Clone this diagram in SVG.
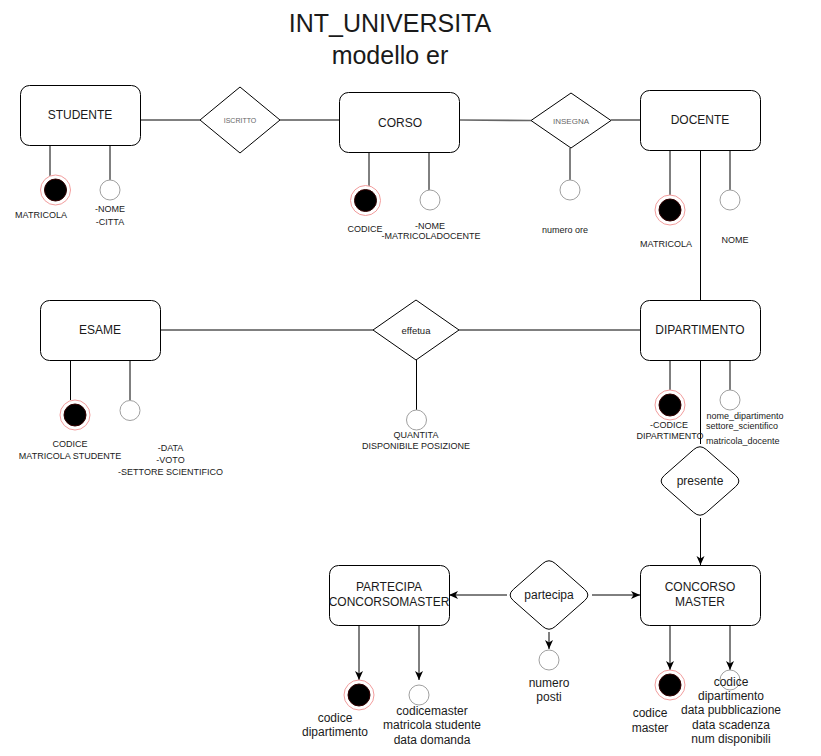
<svg xmlns="http://www.w3.org/2000/svg" width="821" height="756" viewBox="0 0 821 756">
<defs>
<marker id="arr" markerUnits="userSpaceOnUse" markerWidth="10" markerHeight="10" refX="9" refY="4" orient="auto">
<path d="M0,0 L9,4 L0,8 L2.5,4 Z" fill="#000"/>
</marker>
</defs>
<style>
text{font-family:"Liberation Sans",Arial,sans-serif;fill:#1a1a1a;text-anchor:middle}
.ent{fill:#fff;stroke:#000;stroke-width:1}
.rel{fill:#fff;stroke:#000;stroke-width:1}
.t12{font-size:12px}
.t9{font-size:9px}
.ln{stroke:#000;stroke-width:1;fill:none}
.ar{stroke:#000;stroke-width:1;fill:none;marker-end:url(#arr)}
.kout{fill:#fff;stroke:#f29c9c;stroke-width:1}
.kin{fill:#000;stroke:#300;stroke-width:1}
.att{fill:#fff;stroke:#a0a0a0;stroke-width:1}
</style>
<rect width="821" height="756" fill="#fff"/>
<g id="title">
<text x="390" y="32" style="font-size:25px">INT_UNIVERSITA</text>
<text x="390" y="63.5" style="font-size:25px">modello er</text>
</g>
<g id="connectors">
<line class="ln" x1="140" y1="120" x2="200" y2="120"/>
<line class="ln" x1="280" y1="120" x2="340" y2="120"/>
<line x1="460" y1="120" x2="531" y2="120.5" stroke="#666" stroke-width="1.6"/>
<line class="ln" x1="611" y1="120" x2="640" y2="120"/>
<line class="ln" x1="570" y1="148" x2="570" y2="180"/>
<line class="ln" x1="50" y1="145" x2="50" y2="179"/>
<line class="ln" x1="110" y1="145" x2="110" y2="180"/>
<line class="ln" x1="369" y1="153" x2="369" y2="189"/>
<line class="ln" x1="429" y1="153" x2="429" y2="190"/>
<line class="ln" x1="670" y1="150" x2="670" y2="195"/>
<line class="ln" x1="700.5" y1="150" x2="700.5" y2="300"/>
<line class="ln" x1="730" y1="150" x2="730" y2="190"/>
<line class="ln" x1="160" y1="330" x2="373" y2="330"/>
<line class="ln" x1="459" y1="330" x2="640" y2="330"/>
<line class="ln" x1="416.5" y1="360" x2="416.5" y2="410"/>
<line class="ln" x1="70.5" y1="360" x2="70.5" y2="400"/>
<line class="ln" x1="130" y1="360" x2="130" y2="400"/>
<line class="ln" x1="670" y1="360" x2="670" y2="390"/>
<line class="ln" x1="730" y1="360" x2="730" y2="390"/>
<line class="ln" x1="700.5" y1="360" x2="700.5" y2="444"/>
<line class="ar" x1="700.5" y1="518" x2="700.5" y2="565"/>
<line class="ar" x1="507" y1="595" x2="449" y2="595"/>
<line class="ar" x1="592" y1="595" x2="640" y2="595"/>
<line class="ar" x1="549" y1="632" x2="549" y2="649"/>
<line class="ar" x1="359" y1="625" x2="359" y2="680"/>
<line class="ar" x1="419" y1="625" x2="419" y2="680"/>
<line class="ar" x1="670" y1="625" x2="670" y2="670"/>
<line class="ar" x1="730" y1="625" x2="730" y2="670"/>
</g>
<g id="studente">
<rect class="ent" x="20.5" y="85.5" width="120" height="60" rx="9"/>
<text class="t12" x="80" y="119">STUDENTE</text>
</g>
<g id="iscritto">
<polygon class="rel" points="240,87 280,120 240,153 200,120"/>
<text x="240" y="123" style="font-size:7px;fill:#666">ISCRITTO</text>
</g>
<g id="corso">
<rect class="ent" x="339.5" y="92.5" width="120" height="60" rx="9"/>
<text class="t12" x="400" y="127">CORSO</text>
</g>
<g id="insegna">
<polygon class="rel" points="571,93 611,120.5 571,148 531,120.5"/>
<text x="571" y="123.5" style="font-size:8px;fill:#666">INSEGNA</text>
</g>
<g id="docente">
<rect class="ent" x="640.5" y="90.5" width="120" height="60" rx="9"/>
<text class="t12" x="700" y="124">DOCENTE</text>
</g>
<g id="studente-attrs">
<circle class="kout" cx="55.5" cy="190" r="15"/>
<circle class="kin" cx="55.5" cy="190" r="11"/>
<circle class="att" cx="110" cy="190" r="10"/>
<text class="t9" x="41" y="218">MATRICOLA</text>
<text class="t9" x="110" y="212">-NOME</text>
<text class="t9" x="110" y="225">-CITTA</text>
</g>
<g id="corso-attrs">
<circle class="kout" cx="365.5" cy="200.5" r="15"/>
<circle class="kin" cx="365.5" cy="200.5" r="11"/>
<circle class="att" cx="430" cy="200" r="10"/>
<text class="t9" x="365" y="232">CODICE</text>
<text class="t9" x="430" y="229">-NOME</text>
<text class="t9" x="431" y="239">-MATRICOLADOCENTE</text>
</g>
<g id="insegna-attrs">
<circle class="att" cx="570" cy="190" r="10"/>
<text class="t9" x="565" y="233">numero ore</text>
</g>
<g id="docente-attrs">
<circle class="kout" cx="670" cy="210" r="15"/>
<circle class="kin" cx="670" cy="210" r="11"/>
<circle class="att" cx="730" cy="200" r="10"/>
<text class="t9" x="666" y="247">MATRICOLA</text>
<text class="t9" x="735" y="243">NOME</text>
</g>
<g id="esame">
<rect class="ent" x="40.5" y="300.5" width="120" height="60" rx="9"/>
<text class="t12" x="100" y="334">ESAME</text>
</g>
<g id="effetua">
<polygon class="rel" points="416,300 459,330 416,360 373,330"/>
<text x="416" y="333.5" style="font-size:9.5px">effetua</text>
</g>
<g id="dipartimento">
<rect class="ent" x="640.5" y="300.5" width="120" height="60" rx="9"/>
<text class="t12" x="700" y="334">DIPARTIMENTO</text>
</g>
<g id="esame-attrs">
<circle class="kout" cx="75" cy="415" r="15"/>
<circle class="kin" cx="75" cy="415" r="11"/>
<circle class="att" cx="130" cy="410.5" r="10"/>
<text class="t9" x="70" y="447">CODICE</text>
<text class="t9" x="70" y="459">MATRICOLA STUDENTE</text>
<text class="t9" x="170.5" y="451">-DATA</text>
<text class="t9" x="170.5" y="463">-VOTO</text>
<text class="t9" x="170.5" y="475">-SETTORE SCIENTIFICO</text>
</g>
<g id="effetua-attrs">
<circle class="att" cx="416.5" cy="420" r="10"/>
<text class="t9" x="416" y="438">QUANTITA</text>
<text class="t9" x="416" y="449">DISPONIBILE POSIZIONE</text>
</g>
<g id="dipartimento-attrs">
<circle class="kout" cx="670" cy="405" r="15"/>
<circle class="kin" cx="670" cy="405" r="11"/>
<circle class="att" cx="730" cy="400" r="10"/>
<text class="t9" x="669" y="428">-CODICE</text>
<text class="t9" x="670" y="439">DIPARTIMENTO</text>
<text class="t9" x="706.5" y="419" style="text-anchor:start">nome_dipartimento</text>
<text class="t9" x="706" y="429" style="text-anchor:start">settore_scientifico</text>
<text class="t9" x="706" y="444" style="text-anchor:start">matricola_docente</text>
</g>
<g id="presente">
<path class="rel" d="M706.3,449.55 L735.7,475.45 Q742,481 735.7,486.55 L706.3,512.45 Q700,518 693.7,512.45 L664.3,486.55 Q658,481 664.3,475.45 L693.7,449.55 Q700,444 706.3,449.55 Z"/>
<text class="t12" x="700" y="485">presente</text>
</g>
<g id="partecipa-concorsomaster">
<rect class="ent" x="329.5" y="565.5" width="120" height="60" rx="9"/>
<text class="t12" x="389" y="591">PARTECIPA</text>
<text class="t12" x="389" y="606">CONCORSOMASTER</text>
</g>
<g id="partecipa">
<path class="rel" d="M555.3,563.55 L584.7,589.45 Q591,595 584.7,600.55 L555.3,626.45 Q549,632 542.7,626.45 L513.3,600.55 Q507,595 513.3,589.45 L542.7,563.55 Q549,558 555.3,563.55 Z"/>
<text class="t12" x="549" y="599">partecipa</text>
</g>
<g id="concorso-master">
<rect class="ent" x="640.5" y="565.5" width="120" height="60" rx="9"/>
<text class="t12" x="700" y="591">CONCORSO</text>
<text class="t12" x="700" y="606">MASTER</text>
</g>
<g id="partecipa-attrs">
<circle class="att" cx="549" cy="660" r="10"/>
<text class="t12" x="549" y="687">numero</text>
<text class="t12" x="549" y="701">posti</text>
</g>
<g id="partecipa-concorsomaster-attrs">
<circle class="kout" cx="359" cy="695" r="15"/>
<circle class="kin" cx="359" cy="695" r="11"/>
<circle class="att" cx="419" cy="695" r="10"/>
<text class="t12" x="335" y="722">codice</text>
<text class="t12" x="335" y="736">dipartimento</text>
<text class="t12" x="432" y="715">codicemaster</text>
<text class="t12" x="432" y="729">matricola studente</text>
<text class="t12" x="432" y="744">data domanda</text>
</g>
<g id="concorso-master-attrs">
<circle class="kout" cx="670" cy="685" r="15"/>
<circle class="kin" cx="670" cy="685" r="11"/>
<circle class="att" cx="730" cy="680" r="10"/>
<text class="t12" x="650" y="717">codice</text>
<text class="t12" x="650" y="732">master</text>
<text class="t12" x="731" y="686">codice</text>
<text class="t12" x="731" y="700">dipartimento</text>
<text class="t12" x="731" y="714">data pubblicazione</text>
<text class="t12" x="731" y="728.5">data scadenza</text>
<text class="t12" x="731" y="743">num disponibili</text>
</g>
</svg>
